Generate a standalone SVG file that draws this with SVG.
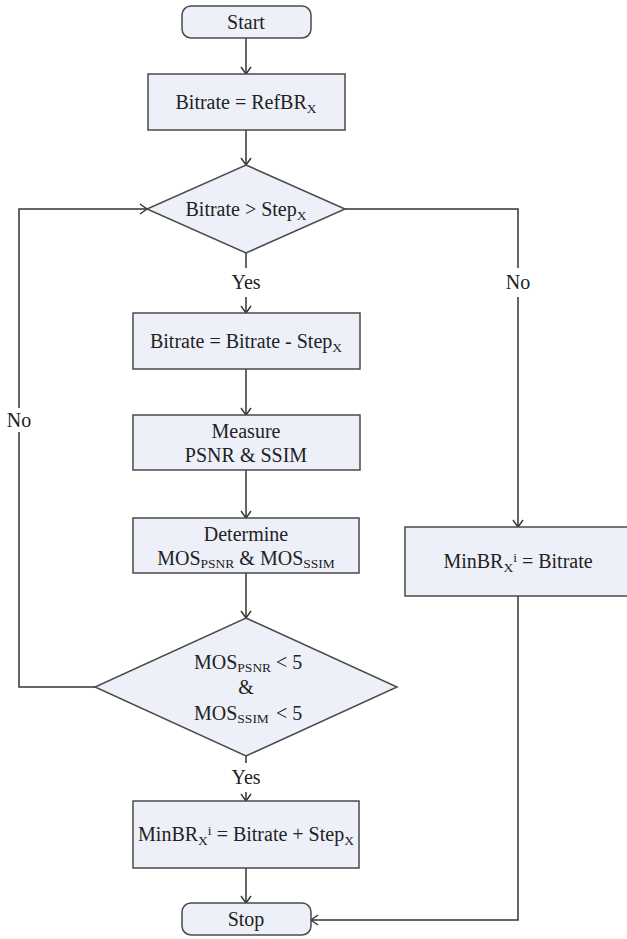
<svg xmlns="http://www.w3.org/2000/svg" width="627" height="939" viewBox="0 0 627 939">
<style>
.n{fill:#edf0f8;stroke:#4a4a4a;stroke-width:1.5}
.c{fill:none;stroke:#333;stroke-width:1.5}
text{font-family:"Liberation Serif","DejaVu Serif",serif;font-size:20px;fill:#222;text-anchor:middle}
.s{font-size:13.5px}
.l{text-anchor:start}
</style>
<defs>
<marker id="a" markerWidth="12" markerHeight="12" refX="10" refY="6" orient="auto" markerUnits="userSpaceOnUse">
<path d="M3,1 L10,6 L3,11" fill="none" stroke="#333" stroke-width="1.4"/>
</marker>
</defs>
<rect width="627" height="939" fill="#fff"/>
<g id="connectors">
<path class="c" d="M246,38 V74" marker-end="url(#a)"/>
<path class="c" d="M246,130 V165" marker-end="url(#a)"/>
<path class="c" d="M246,253 V268 M246,297 V313" marker-end="url(#a)"/>
<path class="c" d="M246,369 V415" marker-end="url(#a)"/>
<path class="c" d="M246,470 V518" marker-end="url(#a)"/>
<path class="c" d="M246,573 V618" marker-end="url(#a)"/>
<path class="c" d="M246,756 V763 M246,792 V801" marker-end="url(#a)"/>
<path class="c" d="M246,868 V903" marker-end="url(#a)"/>
<path class="c" d="M95,687 H19 V432 M19,408 V209 H147" marker-end="url(#a)"/>
<path class="c" d="M345,209 H518 V268 M518,297 V527" marker-end="url(#a)"/>
<path class="c" d="M518,596 V920 H311" marker-end="url(#a)"/>
<text x="19" y="427">No</text>
<text x="518" y="289">No</text>
<text x="246" y="289">Yes</text>
<text x="246" y="784">Yes</text>
</g>
<g id="start">
<rect class="n" x="182" y="6" width="129" height="32" rx="9"/>
<text x="246" y="29">Start</text>
</g>
<g id="init">
<rect class="n" x="148" y="74" width="197" height="56"/>
<text x="246" y="109">Bitrate = RefBR<tspan class="s" dy="4">X</tspan></text>
</g>
<g id="cond1">
<polygon class="n" points="246,165 345,209 246,253 147,209"/>
<text x="246" y="216">Bitrate &gt; Step<tspan class="s" dy="4">X</tspan></text>
</g>
<g id="dec">
<rect class="n" x="133" y="313" width="227" height="56"/>
<text x="246" y="348">Bitrate = Bitrate - Step<tspan class="s" dy="4">X</tspan></text>
</g>
<g id="measure">
<rect class="n" x="133" y="415" width="227" height="55"/>
<text x="246" y="438">Measure</text>
<text x="246" y="462">PSNR &amp; SSIM</text>
</g>
<g id="determine">
<rect class="n" x="133" y="518" width="226" height="55"/>
<text x="246" y="541">Determine</text>
<text x="246" y="565">MOS<tspan class="s" dy="3">PSNR</tspan><tspan dy="-3"> &amp; MOS</tspan><tspan class="s" dy="3">SSIM</tspan></text>
</g>
<g id="cond2">
<polygon class="n" points="246,618 397,687 246,756 95,687"/>
<text class="l" x="194" y="669">MOS<tspan class="s" dy="3">PSNR</tspan></text>
<text class="l" x="276" y="669">&lt; 5</text>
<text x="246" y="694">&amp;</text>
<text class="l" x="194" y="720">MOS<tspan class="s" dy="3">SSIM</tspan></text>
<text class="l" x="276" y="720">&lt; 5</text>
</g>
<g id="result">
<rect class="n" x="133" y="801" width="226" height="67"/>
<text x="246" y="841">MinBR<tspan class="s" dy="4">X</tspan><tspan class="s" dy="-10">i</tspan><tspan dy="6"> = Bitrate + Step</tspan><tspan class="s" dy="4">X</tspan></text>
</g>
<g id="minbr">
<rect class="n" x="405" y="527" width="228" height="69"/>
<text x="518" y="568">MinBR<tspan class="s" dy="4">X</tspan><tspan class="s" dy="-10">i</tspan><tspan dy="6"> = Bitrate</tspan></text>
</g>
<g id="stop">
<rect class="n" x="182" y="903" width="129" height="32" rx="9"/>
<text x="246" y="926">Stop</text>
</g>
</svg>
